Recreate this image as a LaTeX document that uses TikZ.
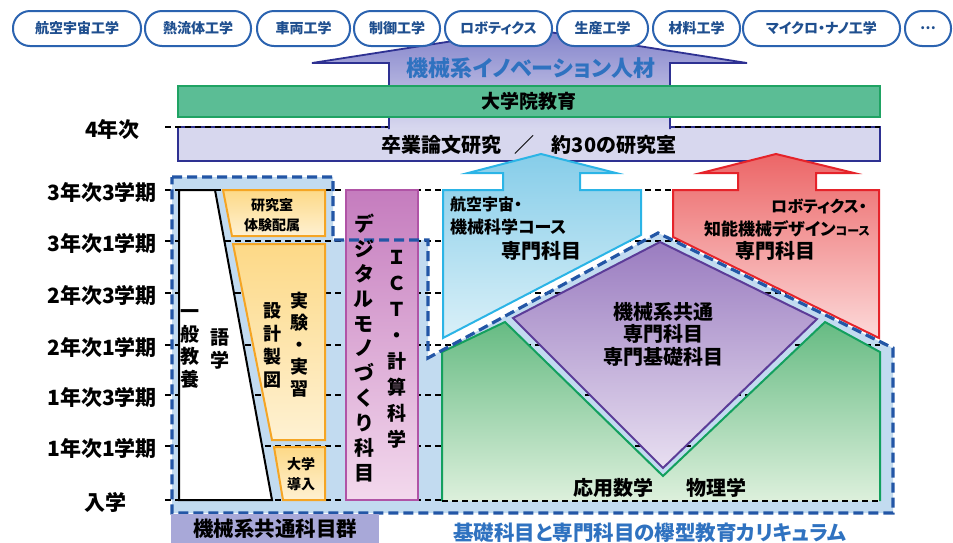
\documentclass[tikz,border=0pt]{standalone}
\usepackage{fontspec}
\setmainfont{Noto Sans CJK JP}[RawFeature=+palt]
\definecolor{pillblue}{HTML}{2B63B0}
\definecolor{pilltext}{HTML}{1F4F8F}
\definecolor{indigo}{HTML}{2E3192}
\definecolor{titleblue}{HTML}{2F72C0}
\definecolor{gbox}{HTML}{5BBD95}
\definecolor{gline}{HTML}{1FA363}
\definecolor{lav}{HTML}{D7D7EE}
\definecolor{regfill}{HTML}{C2DBF0}
\definecolor{regline}{HTML}{2356A6}
\definecolor{orline}{HTML}{F5A524}
\definecolor{ortop}{HTML}{FDD987}
\definecolor{orbot}{HTML}{FEF1D2}
\definecolor{magtop}{HTML}{C57CBE}
\definecolor{magbot}{HTML}{F3D9ED}
\definecolor{magline}{HTML}{B054A6}
\definecolor{cytop}{HTML}{86CDE9}
\definecolor{cybot}{HTML}{DAF0F8}
\definecolor{cyline}{HTML}{2BB4E6}
\definecolor{rdtop}{HTML}{EC6667}
\definecolor{rdbot}{HTML}{FCD9D9}
\definecolor{rdline}{HTML}{E5232A}
\definecolor{putop}{HTML}{9A7CC0}
\definecolor{pubot}{HTML}{E8DFF1}
\definecolor{puline}{HTML}{5C3C98}
\definecolor{grtop}{HTML}{66BB83}
\definecolor{grbot}{HTML}{DDF0DC}
\definecolor{grline}{HTML}{13A05E}
\definecolor{arrtop}{HTML}{8282CA}
\definecolor{arrbot}{HTML}{D8D8EF}
\definecolor{botbox}{HTML}{A8A8D8}
\begin{document}
\begin{tikzpicture}[x=1pt,y=-1pt,
  pill/.style={draw=pillblue, line width=2pt, fill=white, rounded corners=17pt, minimum height=35pt, inner sep=0pt, font=\fontsize{14}{16}\selectfont\bfseries, text=pilltext},
  yearlbl/.style={anchor=east, inner sep=0pt, font=\fontsize{21}{24}\selectfont\bfseries},
  guide/.style={line width=1.3pt, dash pattern=on 6pt off 4pt},
  regedge/.style={draw=regline, line width=3.2pt, dash pattern=on 10pt off 5pt, line join=miter},
  lbl/.style={inner sep=0pt, align=center, font=\fontsize{20}{23}\selectfont\bfseries},
  smalllbl/.style={inner sep=0pt, align=center, font=\fontsize{14}{20}\selectfont\bfseries},
  orbox/.style={draw=orline, line width=2pt, top color=ortop, bottom color=orbot, line join=miter},
]
\useasboundingbox (0,0) rectangle (953,542);

% light blue region
\fill[regfill] (172,177) -- (333,177) -- (333,240) -- (428,240) -- (428,358) -- (658,233) -- (893,348) -- (893,513) -- (172,513) -- cycle;

% guide lines
\foreach \yy in {190,241,293,345,395,446,500} \draw[guide] (165,\yy) -- (880,\yy);

% thesis box
\node[draw=indigo, fill=lav, line width=2pt, minimum width=702pt, minimum height=34pt, inner sep=0pt] (thesis) at (529,144) {};
\draw[guide] (165,127) -- (880,127);

% big purple arrow
\path[top color=arrtop, bottom color=arrbot] (530,29) -- (747,63) -- (670,63) -- (670,129) -- (389,129) -- (389,63) -- (312,63) -- cycle;
\draw[indigo, line width=1.8pt] (389,129) -- (389,63) -- (312,63) -- (530,29) -- (747,63) -- (670,63) -- (670,129);

% graduate box
\node[draw=gline, fill=gbox, line width=2pt, minimum width=702pt, minimum height=31pt, inner sep=0pt, font=\fontsize{19}{22}\selectfont\bfseries] (grad) at (529,101.5) {大学院教育};

\node[inner sep=0pt, font=\fontsize{22}{25}\selectfont\bfseries, text=titleblue] (title) at (531,68) {機械系イノベーション人材};
\node[inner sep=0pt, font=\fontsize{20}{23}\selectfont\bfseries] (thesistext) at (529,145) {卒業論文研究\hspace{13pt}／\hspace{17pt}約30の研究室};

% pills
\node[pill, minimum width=128pt] (p1) at (77,28.5) {航空宇宙工学};
\node[pill, minimum width=106pt] (p2) at (198,28.5) {熱流体工学};
\node[pill, minimum width=93pt] (p3) at (303.5,28.5) {車両工学};
\node[pill, minimum width=86pt] (p4) at (397,28.5) {制御工学};
\node[pill, minimum width=107pt] (p5) at (498.5,28.5) {ロボティクス};
\node[pill, minimum width=91pt] (p6) at (602.5,28.5) {生産工学};
\node[pill, minimum width=87pt] (p7) at (696.5,28.5) {材料工学};
\node[pill, minimum width=157pt] (p8) at (821.5,28.5) {マイクロ・ナノ工学};
\node[pill, minimum width=46pt] (p9) at (928,28.5) {…};

% left column
\draw[black, line width=2pt, fill=white, line join=miter] (179,190) -- (215,190) -- (272,500) -- (179,500) -- cycle;
\path[orbox] (223,190) -- (325,190) -- (325,236) -- (232,236) -- cycle;
\path[orbox] (233,244) -- (325,244) -- (325,440) -- (272,440) -- cycle;
\path[orbox] (274,447) -- (325,447) -- (325,500) -- (283,500) -- cycle;

% purple bar
\path[draw=magline, line width=2pt, top color=magtop, bottom color=magbot] (346,190) rectangle (418,500);

% cyan arrow
\path[draw=cyline, line width=2pt, top color=cytop, bottom color=cybot, line join=miter] (541,154) -- (616,173) -- (580,173) -- (580,190) -- (641,190) -- (641,235) -- (443,338) -- (443,190) -- (503,190) -- (503,173) -- (468,173) -- cycle;
% red arrow
\path[draw=rdline, line width=2pt, top color=rdtop, bottom color=rdbot, line join=miter] (776,154) -- (854,173) -- (816,173) -- (816,190) -- (879,190) -- (879,338) -- (673,237) -- (673,190) -- (738,190) -- (738,173) -- (701,173) -- cycle;

% kite
\path[draw=puline, line width=2pt, top color=putop, bottom color=pubot, line join=miter] (660,242) -- (817,319) -- (663,468) -- (513,318) -- cycle;
% green
\path[top color=grtop, bottom color=grbot] (442,352) -- (505,322) -- (663,476) -- (825,322) -- (880,352) -- (880,501) -- (442,501) -- cycle;
\draw[grline, line width=2pt, line join=miter] (442,501) -- (442,352) -- (505,322) -- (663,476) -- (825,322) -- (880,352) -- (880,501);
\draw[guide] (442,501) -- (880,501);

% region border
\draw[regedge] (172,177) -- (333,177) -- (333,240) -- (428,240) -- (428,358) -- (658,233) -- (893,348) -- (893,513) -- (172,513) -- cycle;

% texts in left column
\node[inner sep=0pt, align=center, font=\fontsize{19}{22.7}\selectfont\bfseries] (ippan) at (190,349) {一\\般\\教\\養};
\node[inner sep=0pt, align=center, font=\fontsize{19}{22.7}\selectfont\bfseries] (gogaku) at (220,349) {語\\学};
\node[smalllbl] (lab) at (272,215) {研究室\\体験配属};
\node[inner sep=0pt, align=center, font=\fontsize{18}{23}\selectfont\bfseries] (sekkei) at (272,345) {設\\計\\製\\図};
\node[inner sep=0pt, align=center, font=\fontsize{18}{22}\selectfont\bfseries] (jikken) at (299,345) {実\\験\\・\\実\\習};
\node[smalllbl] (intro) at (301,474) {大学\\導入};
\node[inner sep=0pt, align=center, font=\fontsize{20}{24.9}\selectfont\bfseries] (digi) at (364,348) {デ\\ジ\\タ\\ル\\モ\\ノ\\づ\\く\\り\\科\\目};
\node[inner sep=0pt, align=center, font=\fontsize{19}{26}\selectfont\bfseries] (ict) at (397,349) {Ｉ\\Ｃ\\Ｔ\\・\\計\\算\\科\\学};

% course texts
\node[anchor=west, inner sep=0pt, font=\fontsize{16}{18}\selectfont\bfseries] (c1a) at (450,204) {航空宇宙・};
\node[anchor=west, inner sep=0pt, font=\fontsize{17}{19}\selectfont\bfseries] (c1b) at (450,227) {機械科学コース};
\node[lbl] (c1c) at (541,251) {専門科目};
\node[anchor=east, inner sep=0pt, font=\fontsize{16}{18}\selectfont\bfseries] (c2a) at (867,206) {ロボティクス・};
\node[anchor=east, inner sep=0pt, font=\fontsize{17}{19}\selectfont\bfseries] (c2b) at (870,229) {知能機械デザイン{\fontsize{12}{14}\selectfont コース}};
\node[lbl] (c2c) at (775,251) {専門科目};

\node[lbl, font=\fontsize{20}{22.5}\selectfont\bfseries] (common) at (663,334) {機械系共通\\専門科目\\専門基礎科目};
\node[lbl] (math) at (613,488) {応用数学};
\node[lbl] (phys) at (716,488) {物理学};

% bottom
\node[fill=botbox, minimum width=208pt, minimum height=29pt, inner sep=0pt, font=\fontsize{20.5}{23}\selectfont\bfseries] (group) at (275,528.5) {機械系共通科目群};
\node[inner sep=0pt, font=\fontsize{20.5}{23}\selectfont\bfseries, text=titleblue] (wedge) at (650,533) {基礎科目と専門科目の欅型教育カリキュラム};

% year labels
\node[yearlbl] (l4) at (140,129) {4年次};
\node[yearlbl] (l33) at (157,192) {3年次3学期};
\node[yearlbl] (l31) at (157,243) {3年次1学期};
\node[yearlbl] (l23) at (157,295) {2年次3学期};
\node[yearlbl] (l21) at (157,347) {2年次1学期};
\node[yearlbl] (l13) at (157,397) {1年次3学期};
\node[yearlbl] (l11) at (157,448) {1年次1学期};
\node[yearlbl] (l0) at (127,502) {入学};
\end{tikzpicture}
\end{document}
